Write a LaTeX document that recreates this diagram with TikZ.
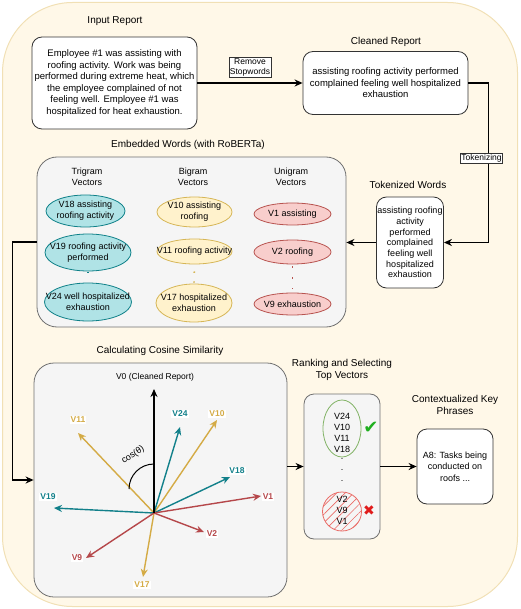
\documentclass[tikz,border=0pt]{standalone}
\usepackage{fontspec}
\setmainfont{Liberation Sans}
\newfontfamily\symf{DejaVu Sans}
\usetikzlibrary{arrows.meta,shapes.geometric,patterns.meta}
\definecolor{bgfill}{HTML}{FFF8E8}
\definecolor{bgline}{HTML}{F1E0B5}
\definecolor{contfill}{HTML}{F5F5F5}
\definecolor{contline}{HTML}{707070}
\definecolor{trifill}{HTML}{B0E3E6}
\definecolor{triline}{HTML}{0E8088}
\definecolor{bifill}{HTML}{FFF2CC}
\definecolor{biline}{HTML}{D6B656}
\definecolor{unifill}{HTML}{F8CECC}
\definecolor{uniline}{HTML}{B85450}
\definecolor{vteal}{HTML}{12808A}
\definecolor{vgold}{HTML}{D4AB45}
\definecolor{vred}{HTML}{B5474A}
\definecolor{okgreen}{HTML}{82B366}
\definecolor{hatchred}{HTML}{EA6B66}
\definecolor{chk}{HTML}{1FAF1F}
\definecolor{crs}{HTML}{E01B1B}
\tikzset{
  ttl/.style={font=\fontsize{10}{12}\selectfont, align=center, inner sep=0},
  wbox/.style={draw=black!80, fill=white, rounded corners=10, line width=0.8, align=center, inner sep=1},
  cont/.style={draw=contline, fill=contfill, rounded corners=20, line width=0.8},
  flow/.style={-{Stealth[length=8,width=7]}, line width=1.4, black},
  lbl/.style={draw=black!80, fill=white, line width=0.5, font=\fontsize{8.5}{10}\selectfont, align=center, inner sep=1},
  elltext/.style={font=\fontsize{9}{10.7}\selectfont, align=center, inner sep=0},
  ell/.style={ellipse, inner sep=0, line width=0.8},
  tri/.style={ell, draw=triline, fill=trifill},
  bi/.style={ell, draw=biline, fill=bifill},
  uni/.style={ell, draw=uniline, fill=unifill},
  vec/.style={-{Stealth[length=8,width=7]}, line width=1.4},
  vlab/.style={font=\bfseries\fontsize{8.5}{10}\selectfont, fill=white, inner sep=1},
  dotl/.style={line width=1.6, dash pattern=on 1.5 off 9.5},
}
\begin{document}
\begin{tikzpicture}[x=1pt,y=-1pt]
\useasboundingbox (0,0) rectangle (520,609);
\draw[fill=bgfill, draw=bgline, line width=1, rounded corners=70] (2.5,2.5) rectangle (517.5,606.5);

% titles
\node[ttl] (tInp) at (115,21) {Input Report};
\node[ttl] (tCl) at (386,42) {Cleaned Report};
\node[ttl] (tTok) at (408,185) {Tokenized Words};
\node[ttl] (tEmb) at (188,145) {Embedded Words (with RoBERTa)};
\node[ttl] (tCos) at (160,351) {Calculating Cosine Similarity};
\node[ttl] (tRank) at (342,369.5) {Ranking and Selecting\\Top Vectors};
\node[ttl] (tCtx) at (455,405) {Contextualized Key\\Phrases};

% white boxes
\node[wbox, minimum width=165, minimum height=92, font=\fontsize{9.5}{11.6}\selectfont] (inp) at (114.5,83)
  {Employee \#1 was assisting with\\roofing activity. Work was being\\performed during extreme heat, which\\the employee complained of not\\feeling well. Employee \#1 was\\hospitalized for heat exhaustion.};
\node[wbox, minimum width=165, minimum height=63, font=\fontsize{9.5}{11.6}\selectfont] (cl) at (385.5,83)
  {assisting roofing activity performed\\complained feeling well hospitalized\\exhaustion};
\node[wbox, minimum width=66, minimum height=91, font=\fontsize{9}{10.7}\selectfont] (tok) at (410,242.5)
  {assisting roofing\\activity\\performed\\complained\\feeling well\\hospitalized\\exhaustion};
\node[wbox, minimum width=76, minimum height=75, font=\fontsize{9}{11.5}\selectfont] (ctx) at (455,466.5)
  {A8: Tasks being\\conducted on\\roofs ...};

% containers
\node[cont, minimum width=309, minimum height=170] (emb) at (191.5,242) {};
\node[cont, minimum width=253, minimum height=234] (cos) at (160.5,480) {};
\node[cont, minimum width=76, minimum height=145, rounded corners=10] (rank) at (342,466.5) {};

% column titles
\node[ttl, font=\fontsize{9}{11}\selectfont] (cTri) at (87,176.5) {Trigram\\Vectors};
\node[ttl, font=\fontsize{9}{11}\selectfont] (cBi) at (193,176.5) {Bigram\\Vectors};
\node[ttl, font=\fontsize{9}{11}\selectfont] (cUni) at (291,176.5) {Unigram\\Vectors};

% ellipses
\node[tri, minimum width=79, minimum height=32, label={[elltext]center:{V18 assisting\\roofing activity}}] (v18) at (85.5,211) {};
\node[tri, minimum width=86, minimum height=37, label={[elltext]center:{V19 roofing activity\\performed}}] (v19) at (88,252.5) {};
\node[tri, minimum width=87, minimum height=38, label={[elltext]center:{V24 well hospitalized\\exhaustion}}] (v24) at (88,302) {};
\node[bi, minimum width=75, minimum height=30, label={[elltext]center:{V10 assisting\\roofing}}] (v10) at (194.5,212) {};
\node[bi, minimum width=75, minimum height=25, label={[elltext]center:{V11 roofing activity}}] (v11) at (194.5,251.5) {};
\node[bi, minimum width=76, minimum height=38, label={[elltext]center:{V17 hospitalized\\exhaustion}}] (v17) at (194,303) {};
\node[uni, minimum width=77, minimum height=22, label={[elltext]center:{V1 assisting}}] (v1) at (292.5,214) {};
\node[uni, minimum width=77, minimum height=24, label={[elltext]center:{V2 roofing}}] (v2) at (292.5,252) {};
\node[uni, minimum width=77, minimum height=22, label={[elltext]center:{V9 exhaustion}}] (v9) at (292.5,304) {};

\draw[dotl, triline, shorten <=0.5, shorten >=0] (v19.south) -- (v24.north);
\draw[dotl, biline, dash pattern=on 1.5 off 8.5, shorten <=7, shorten >=1] (v11.south) -- (v17.north);
\draw[dotl, uniline, shorten <=2, shorten >=3.5] (v2.south) -- (v9.north);

% flow arrows
\draw[flow] (inp.east) -- (inp.east -| cl.west);
\node[lbl] (lRem) at (250,67) {Remove\\Stopwords};
\draw[flow] (cl.east) -- ++(20,0) |- (tok.east);
\node[lbl] (lTok) at (481.5,158) {Tokenizing};
\draw[flow] (tok.west) -- (tok.west -| emb.east);
\draw[flow] (emb.west) -- ++(-24,0) |- (cos.west);
\draw[flow] (cos.east |- rank.west) -- (rank.west);
\draw[flow] (rank.east) -- (ctx.west);

% cosine vectors
\coordinate (o) at (154,513);
\node[font=\fontsize{8.5}{10}\selectfont, inner sep=0] (v0l) at (155,377) {V0 (Cleaned Report)};
\coordinate (t0) at (154,389);
\coordinate (t24) at (180,427);
\coordinate (t10) at (217,420);
\coordinate (t11) at (78,433);
\coordinate (t18) at (230,477);
\coordinate (t1) at (261,496);
\coordinate (t19) at (54,508);
\coordinate (t2) at (204,532);
\coordinate (t9) at (86,558);
\coordinate (t17) at (143,577);
\draw[vec, vgold] (o) -- (t11);
\draw[vec, vgold] (o) -- (t10);
\draw[vec, vgold] (o) -- (t17);
\draw[vec, vteal] (o) -- (t24);
\draw[vec, vteal] (o) -- (t18);
\draw[vec, vteal] (o) -- (t19);
\draw[vec, vred] (o) -- (t1);
\draw[vec, vred] (o) -- (t2);
\draw[vec, vred] (o) -- (t9);
\draw[vec, black] (o) -- (t0);
\draw[line width=1, black] (154,464) arc[start angle=-90, end angle=-180, radius=25];
\node[font=\fontsize{9}{10}\selectfont, rotate=33, inner sep=0] (cosl) at (133,455) {cos(θ)};
\node[vlab, text=vteal] (l24) at (180,414) {V24};
\node[vlab, text=vgold] (l10) at (217,414) {V10};
\node[vlab, text=vgold] (l11) at (78,420) {V11};
\node[vlab, text=vteal] (l18) at (237,471) {V18};
\node[vlab, text=vred] (l1) at (268,497) {V1};
\node[vlab, text=vteal] (l19) at (48,497) {V19};
\node[vlab, text=vred] (l2) at (212,534) {V2};
\node[vlab, text=vred] (l9) at (77,558) {V9};
\node[vlab, text=vgold] (l17) at (142,585) {V17};

% ranking contents
\node[ellipse, draw=okgreen, line width=0.8, minimum width=38, minimum height=57, inner sep=0] (top) at (342,428.5) {};
\node[font=\fontsize{9}{11}\selectfont, align=center, inner sep=0] (topt) at (342,432.5) {V24\\V10\\V11\\V18};
\node[font=\fontsize{9}{11}\selectfont, align=center, inner sep=0] (dots) at (342,470) {.\\.\\.};
\node[circle, draw=hatchred, line width=0.8, minimum size=39, inner sep=0,
      pattern={Lines[angle=45, distance=6pt, line width=0.6pt]}, pattern color=hatchred] (bot) at (342,511.5) {};
\node[font=\fontsize{9}{11}\selectfont, align=center, inner sep=0] (bott) at (342,510) {V2\\V9\\V1};
\node[font=\symf\bfseries\fontsize{18}{18}\selectfont, text=chk, inner sep=0] (chkm) at (371,428) {✔};
\node[font=\symf\fontsize{14}{14}\selectfont, text=crs, inner sep=0] (crsm) at (369,511) {✖};
\end{tikzpicture}
\end{document}
